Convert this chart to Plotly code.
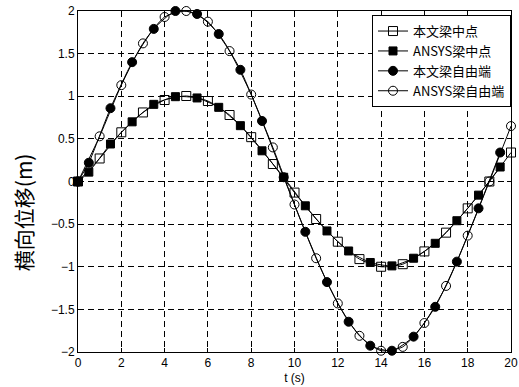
import plotly.graph_objects as go

t_int = list(range(0, 21))
t_half = [0] + [i + 0.5 for i in range(0, 20)]

mid_paper = [0, 0.27, 0.577, 0.81, 0.956, 1.003, 0.944, 0.78, 0.52, 0.205, -0.13,
             -0.44, -0.706, -0.91, -1.0, -0.97, -0.82, -0.60, -0.315, 0.0, 0.34]
mid_ansys = [0, 0.11, 0.44, 0.70, 0.905, 0.995, 0.98, 0.87, 0.655, 0.36, 0.05,
             -0.285, -0.58, -0.815, -0.95, -0.99, -0.90, -0.725, -0.46, -0.16, 0.17]
free_paper = [0, 0.22, 0.86, 1.40, 1.79, 2.0, 1.965, 1.73, 1.31, 0.71, 0.05,
              -0.59, -1.18, -1.645, -1.926, -1.985, -1.82, -1.47, -0.94, -0.315, 0.34]
free_ansys = [0, 0.53, 1.13, 1.62, 1.93, 2.0, 1.875, 1.53, 1.02, 0.40, -0.27,
              -0.90, -1.43, -1.81, -1.985, -1.94, -1.66, -1.225, -0.635, 0.0, 0.65]

names = ["本文梁中点", "ANSYS梁中点", "本文梁自由端", "ANSYS梁自由端"]

fig = go.Figure()
series = [
    (t_int, mid_paper, names[0], "square-open", 9),
    (t_half, mid_ansys, names[1], "square", 8),
    (t_half, free_paper, names[2], "circle", 9),
    (t_int, free_ansys, names[3], "circle-open", 9),
]
for x, y, n, sym, sz in series:
    fig.add_trace(go.Scatter(
        x=x, y=y, name=n, mode="lines+markers",
        line=dict(color="black", width=1, shape="spline", smoothing=0.6),
        marker=dict(symbol=sym, size=sz, color="black",
                    line=dict(color="black", width=1)),
        cliponaxis=False,
    ))

tick_font = dict(family="Liberation Sans, Arial", size=12, color="black")
axis_common = dict(
    showline=True, linecolor="black", linewidth=1, mirror="ticks",
    ticks="inside", ticklen=4, tickcolor="black",
    showgrid=True, gridcolor="black", gridwidth=1, griddash="6px,4px",
    zeroline=False, automargin=False,
    tickfont=tick_font,
)

fig.update_xaxes(range=[0, 20], dtick=2, **axis_common,
                 title=dict(text="t (s)", font=tick_font, standoff=4))
fig.update_yaxes(range=[-2, 2], dtick=0.5, **axis_common)

fig.add_annotation(
    text="横向位移(m)", xref="paper", yref="paper", x=-0.127, y=0.41,
    xanchor="center", yanchor="middle", textangle=-90, showarrow=False,
    font=dict(family="Noto Sans CJK SC, DejaVu Serif", size=21, color="black"),
)

fig.update_layout(
    width=519, height=387,
    margin=dict(l=78, r=8, t=11, b=35, autoexpand=False),
    plot_bgcolor="white", paper_bgcolor="white",
    showlegend=True,
    legend=dict(x=1, y=0.988, xanchor="right", yanchor="top",
                bordercolor="black", borderwidth=1, bgcolor="white",
                font=dict(family="Noto Sans CJK SC, Liberation Sans", size=13, color="black"),
                tracegroupgap=0, itemwidth=30),
)

fig.write_html("out.html")
